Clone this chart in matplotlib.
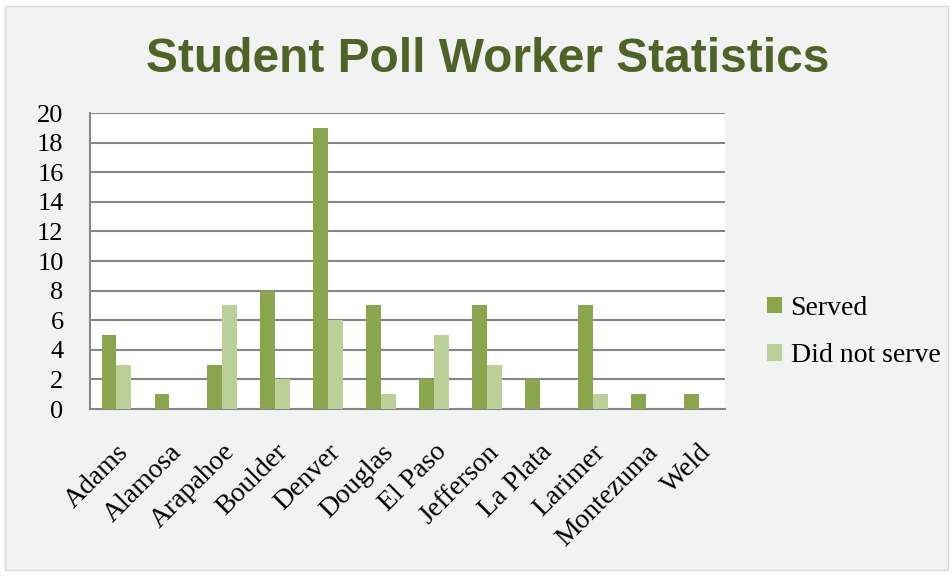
import matplotlib
matplotlib.use('Agg')
import matplotlib.pyplot as plt
import numpy as np
from matplotlib.patches import Rectangle

counties = ['Adams', 'Alamosa', 'Arapahoe', 'Boulder', 'Denver', 'Douglas', 'El Paso',
            'Jefferson', 'La Plata', 'Larimer', 'Montezuma', 'Weld']
served = [5, 1, 3, 8, 19, 7, 2, 7, 2, 7, 1, 1]
did_not_serve = [3, 0, 7, 2, 6, 1, 5, 3, 0, 1, 0, 0]

c_served = '#8aa54e'
c_not = '#bbcf98'
serif = ['Liberation Serif', 'DejaVu Serif']

fig = plt.figure(figsize=(9.53, 5.76), dpi=100)
fig.patch.set_facecolor('white')
# gray chart area
fig.patches.append(Rectangle((5 / 953, 6 / 576), 943 / 953, 564 / 576, transform=fig.transFigure,
                             facecolor='#f2f2f2', edgecolor='#d9d9d9', lw=1, zorder=-10))

ax = fig.add_axes([90 / 953, 1 - 409 / 576, 635 / 953, 296 / 576])
ax.set_facecolor('white')

x = np.arange(len(counties))
w = 0.28
ax.bar(x - w / 2, served, w, color=c_served, label='Served', zorder=3)
ax.bar(x + w / 2, did_not_serve, w, color=c_not, label='Did not serve', zorder=3)

ax.set_xlim(-0.5, len(counties) - 0.5)
ax.set_ylim(0, 20)
ax.set_yticks(range(0, 21, 2))
ax.yaxis.grid(True, color='#868686', lw=1.5, zorder=1)
ax.set_axisbelow(True)
for s in ['top', 'right']:
    ax.spines[s].set_visible(False)
for s in ['left', 'bottom']:
    ax.spines[s].set_color('#868686')
    ax.spines[s].set_linewidth(1.5)
ax.tick_params(axis='both', length=0)
ax.tick_params(axis='y', pad=19)
ax.tick_params(axis='x', pad=22)

ax.set_xticks(x)
ax.set_xticklabels(counties, rotation=45, ha='right', va='top', rotation_mode='anchor',
                   family=serif, fontsize=20)
for lab in ax.get_yticklabels():
    lab.set_family(serif)
    lab.set_fontsize(19)
    lab.set_horizontalalignment('right')

fig.text(487.5 / 953, 1 - 72 / 576, 'Student Poll Worker Statistics', ha='center', va='baseline',
         fontsize=34.5, fontweight='bold', color='#4f6228',
         family=['Liberation Sans Narrow', 'Liberation Sans', 'DejaVu Sans'])

leg = ax.legend(loc='center left', bbox_to_anchor=(1.066, 0.26), frameon=False,
                prop={'family': serif, 'size': 20}, handlelength=0.55, handleheight=0.55,
                handletextpad=0.3, labelspacing=0.8, borderpad=0, borderaxespad=0)

fig.savefig('out.png', dpi=100)
